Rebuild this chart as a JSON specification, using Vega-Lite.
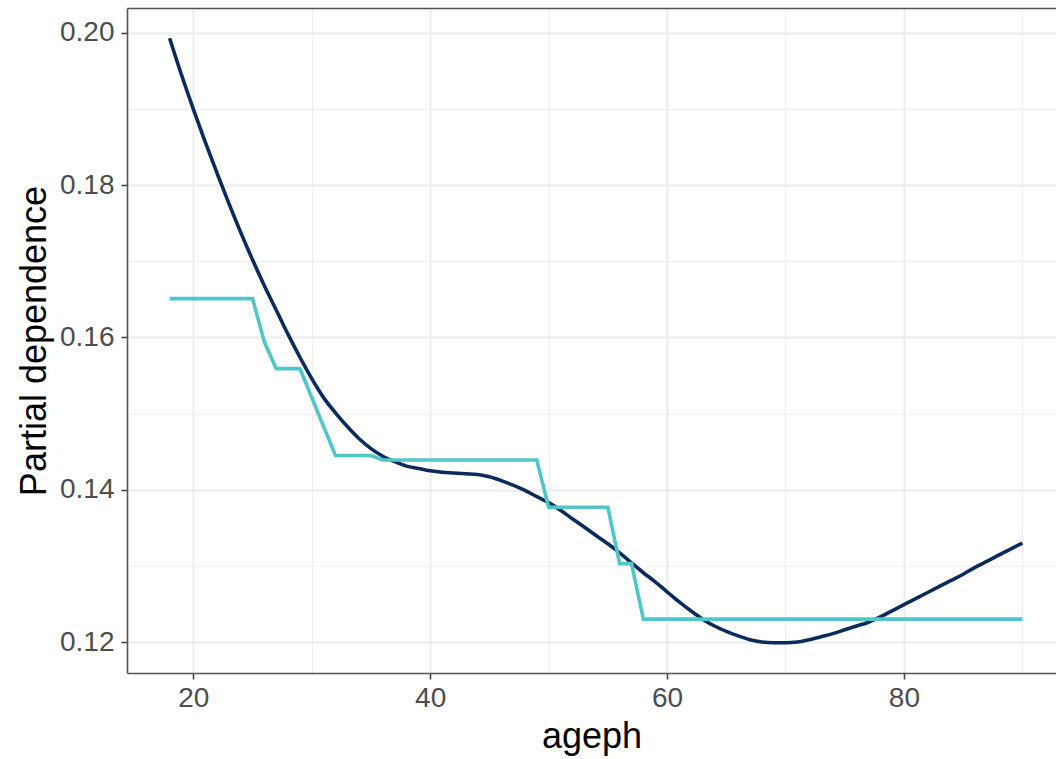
{
  "$schema": "https://vega.github.io/schema/vega-lite/v6.json",
  "width": 929,
  "height": 665,
  "autosize": {"type": "none"},
  "padding": {"left": 127, "top": 8, "right": 0, "bottom": 86},
  "background": "white",
  "config": {"view": {"stroke": null}, "font": "Liberation Sans"},
  "datasets": {
    "curve": [
      {"ageph": 18, "pd": 0.1993}, {"ageph": 19, "pd": 0.1945}, {"ageph": 20, "pd": 0.1900}, {"ageph": 21, "pd": 0.1857},
      {"ageph": 22, "pd": 0.1816}, {"ageph": 23, "pd": 0.1776}, {"ageph": 24, "pd": 0.1738}, {"ageph": 25, "pd": 0.1702},
      {"ageph": 26, "pd": 0.1668}, {"ageph": 27, "pd": 0.1636}, {"ageph": 28, "pd": 0.1604}, {"ageph": 29, "pd": 0.1574},
      {"ageph": 30, "pd": 0.1546}, {"ageph": 31, "pd": 0.1521}, {"ageph": 32, "pd": 0.1501}, {"ageph": 33, "pd": 0.1483},
      {"ageph": 34, "pd": 0.1467}, {"ageph": 35, "pd": 0.1454}, {"ageph": 36, "pd": 0.1444}, {"ageph": 37, "pd": 0.1437},
      {"ageph": 38, "pd": 0.1431}, {"ageph": 39, "pd": 0.1428}, {"ageph": 40, "pd": 0.1425}, {"ageph": 41, "pd": 0.1423},
      {"ageph": 42, "pd": 0.1422}, {"ageph": 43, "pd": 0.1421}, {"ageph": 44, "pd": 0.1420}, {"ageph": 45, "pd": 0.1417},
      {"ageph": 46, "pd": 0.1412}, {"ageph": 47, "pd": 0.1406}, {"ageph": 48, "pd": 0.1399}, {"ageph": 49, "pd": 0.1391},
      {"ageph": 50, "pd": 0.1383}, {"ageph": 51, "pd": 0.1373}, {"ageph": 52, "pd": 0.1362}, {"ageph": 53, "pd": 0.1351},
      {"ageph": 54, "pd": 0.1340}, {"ageph": 55, "pd": 0.1329}, {"ageph": 56, "pd": 0.1317}, {"ageph": 57, "pd": 0.1304},
      {"ageph": 58, "pd": 0.1291}, {"ageph": 59, "pd": 0.1279}, {"ageph": 60, "pd": 0.1266}, {"ageph": 61, "pd": 0.1253},
      {"ageph": 62, "pd": 0.1241}, {"ageph": 63, "pd": 0.1230}, {"ageph": 64, "pd": 0.1221}, {"ageph": 65, "pd": 0.1214},
      {"ageph": 66, "pd": 0.1208}, {"ageph": 67, "pd": 0.1203}, {"ageph": 68, "pd": 0.1200}, {"ageph": 69, "pd": 0.1199},
      {"ageph": 70, "pd": 0.1199}, {"ageph": 71, "pd": 0.1200}, {"ageph": 72, "pd": 0.1203}, {"ageph": 73, "pd": 0.1207},
      {"ageph": 74, "pd": 0.1211}, {"ageph": 75, "pd": 0.1216}, {"ageph": 76, "pd": 0.1221}, {"ageph": 77, "pd": 0.1226},
      {"ageph": 78, "pd": 0.1233}, {"ageph": 79, "pd": 0.1241}, {"ageph": 80, "pd": 0.1249}, {"ageph": 81, "pd": 0.1257},
      {"ageph": 82, "pd": 0.1265}, {"ageph": 83, "pd": 0.1273}, {"ageph": 84, "pd": 0.1281}, {"ageph": 85, "pd": 0.1289},
      {"ageph": 86, "pd": 0.1298}, {"ageph": 87, "pd": 0.1306}, {"ageph": 88, "pd": 0.1314}, {"ageph": 89, "pd": 0.1322},
      {"ageph": 90, "pd": 0.1330}
    ],
    "steps": [
      {"ageph": 18, "pd": 0.1651}, {"ageph": 25, "pd": 0.1651}, {"ageph": 26, "pd": 0.1594}, {"ageph": 27, "pd": 0.1559},
      {"ageph": 29, "pd": 0.1559}, {"ageph": 32, "pd": 0.1445}, {"ageph": 35, "pd": 0.1445}, {"ageph": 36, "pd": 0.1439},
      {"ageph": 49, "pd": 0.1439}, {"ageph": 50, "pd": 0.1377}, {"ageph": 55, "pd": 0.1377}, {"ageph": 56, "pd": 0.1303},
      {"ageph": 57, "pd": 0.1303}, {"ageph": 58, "pd": 0.1230}, {"ageph": 90, "pd": 0.1230}
    ]
  },
  "layer": [
    {
      "data": {"name": "curve"},
      "mark": {"type": "line", "color": "#0B2B5E", "strokeWidth": 3.6, "interpolate": "monotone", "clip": true},
      "encoding": {
        "x": {
          "field": "ageph", "type": "quantitative",
          "scale": {"domain": [14.4, 92.84], "nice": false, "zero": false},
          "axis": {
            "title": "ageph", "values": [20, 40, 60, 80],
            "grid": true, "gridColor": "#EBEBEB", "gridWidth": 2,
            "domainColor": "#555555", "domainWidth": 1.6,
            "tickColor": "#444444", "tickWidth": 1.6, "tickSize": 6,
            "labelFont": "Liberation Sans", "labelFontSize": 28, "labelColor": "#4D4D4D", "labelPadding": 5,
            "titleFont": "Liberation Sans", "titleFontSize": 36, "titleFontWeight": "normal", "titleColor": "#000000", "titlePadding": 7
          }
        },
        "y": {
          "field": "pd", "type": "quantitative",
          "scale": {"domain": [0.11593, 0.20327], "nice": false, "zero": false},
          "axis": {
            "title": "Partial dependence", "values": [0.12, 0.14, 0.16, 0.18, 0.2], "format": ".2f",
            "grid": true, "gridColor": "#EBEBEB", "gridWidth": 2,
            "domainColor": "#555555", "domainWidth": 1.6,
            "tickColor": "#444444", "tickWidth": 1.6, "tickSize": 6,
            "labelFont": "Liberation Sans", "labelFontSize": 28, "labelColor": "#4D4D4D", "labelPadding": 7,
            "titleFont": "Liberation Sans", "titleFontSize": 36, "titleFontWeight": "normal", "titleColor": "#000000", "titlePadding": 6
          }
        }
      }
    },
    {
      "data": {"name": "steps"},
      "mark": {"type": "line", "color": "#4FC6C7", "strokeWidth": 3.6, "clip": true},
      "encoding": {
        "x": {
          "field": "ageph", "type": "quantitative",
          "axis": {
            "orient": "top", "values": [30, 50, 70, 90], "title": null,
            "grid": true, "gridColor": "#EFEFEF", "gridWidth": 1.2,
            "labels": false, "ticks": false,
            "domainColor": "#555555", "domainWidth": 1.6
          }
        },
        "y": {
          "field": "pd", "type": "quantitative",
          "axis": {
            "orient": "right", "values": [0.13, 0.15, 0.17, 0.19], "title": null,
            "grid": true, "gridColor": "#EFEFEF", "gridWidth": 1.2,
            "labels": false, "ticks": false, "domain": false
          }
        }
      }
    }
  ],
  "resolve": {"axis": {"x": "independent", "y": "independent"}}
}
